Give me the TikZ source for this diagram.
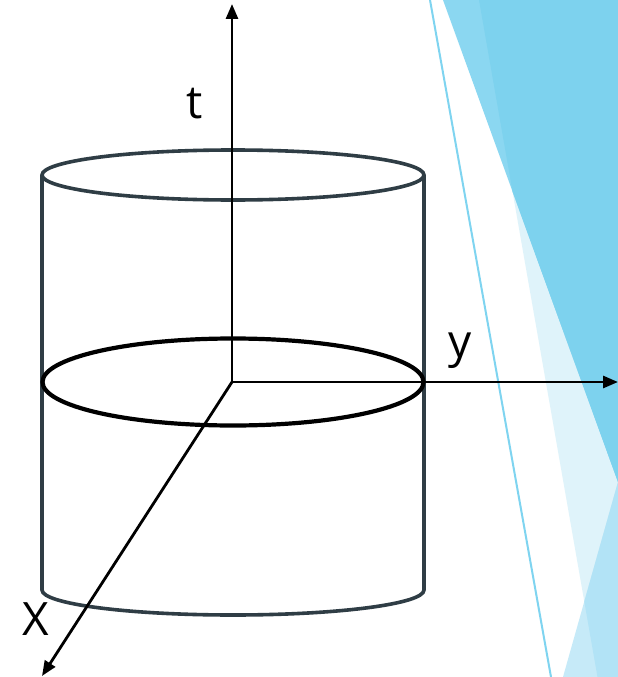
\documentclass[tikz,border=0pt]{standalone}
\usepackage{fontspec}
\setmainfont{Open Sans}
\usetikzlibrary{arrows.meta}
\definecolor{bgdark}{HTML}{7DD2EE}
\definecolor{bgband}{HTML}{8BD7F1}
\definecolor{bgpale}{HTML}{DFF3FA}
\definecolor{bglowa}{HTML}{C6EAF8}
\definecolor{bglowb}{HTML}{B2E3F6}
\definecolor{thinblue}{HTML}{7FD4F0}
\definecolor{cylcol}{HTML}{2F3D45}
\tikzset{
  cyl/.style={draw=cylcol, line width=3.6pt},
  midring/.style={draw=black, line width=4.2pt},
  axis/.style={draw=black, line width=2.8pt, -{Triangle[length=15pt,width=12pt]}},
  lbl/.style={font=\fontsize{46pt}{50pt}\selectfont, anchor=base, inner sep=0pt}
}
\begin{document}
\begin{tikzpicture}[x=1pt,y=-1pt]
\useasboundingbox (0,0) rectangle (618,677);
\fill[white] (0,0) rectangle (618,677);
% background facets
\fill[bgpale] (479,0) -- (618,0) -- (618,677) -- (597.5,677) -- cycle;
\fill[bgband] (443,0) -- (618,0) -- (618,482) -- cycle;
\begin{scope}
  \clip (479,0) -- (618,0) -- (618,677) -- (597.5,677) -- cycle;
  \fill[bgdark] (443,0) -- (618,0) -- (618,482) -- cycle;
\end{scope}
\fill[bglowa] (618,482) -- (563,677) -- (618,677) -- cycle;
\begin{scope}
  \clip (479,0) -- (618,0) -- (618,677) -- (597.5,677) -- cycle;
  \fill[bglowb] (618,482) -- (563,677) -- (618,677) -- cycle;
\end{scope}
\draw[thinblue, line width=2pt] (430,0) -- (551,677);
% cylinder
\draw[cyl] (233,175) ellipse [x radius=191pt, y radius=25pt];
\draw[cyl] (42,175) -- (42,590) arc[start angle=180, end angle=360, x radius=191pt, y radius=25pt] -- (424,175);
% axes
\coordinate (O) at (232,382);
\coordinate (T) at (232,4);
\coordinate (Y) at (618,382);
\coordinate (X) at (42,676);
\draw[axis] (O) -- (T);
\draw[axis] (O) -- (Y);
\draw[axis] (O) -- (X);
% middle ring
\draw[midring] (233,382) ellipse [x radius=190.5pt, y radius=43.5pt];
% labels
\node[lbl] (tl) at (195,118) {t};
\node[lbl] (yl) at (460,357) {y};
\node[lbl] (xl) at (36,635) {X};
\end{tikzpicture}
\end{document}
